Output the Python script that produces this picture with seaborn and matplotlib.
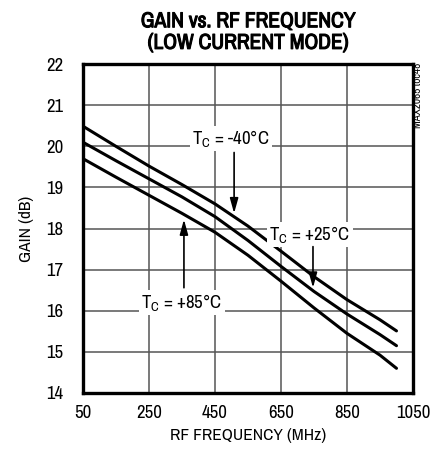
import pandas as pd
import seaborn as sns
from matplotlib import pyplot as plt
from matplotlib import font_manager
from matplotlib import patheffects

freq = [50, 150, 250, 350, 450, 550, 650, 750, 850, 950, 1000]
gain_m40 = [20.49, 20.0, 19.52, 19.07, 18.6, 18.06, 17.45, 16.83, 16.27, 15.78, 15.51]
gain_p25 = [20.1, 19.65, 19.21, 18.77, 18.29, 17.71, 17.08, 16.47, 15.92, 15.42, 15.15]
gain_p85 = [19.7, 19.25, 18.81, 18.37, 17.91, 17.35, 16.72, 16.07, 15.45, 14.92, 14.6]
temps = ["-40", "+25", "+85"]

x_ticks = [50, 250, 450, 650, 850, 1050]
y_ticks = [14, 15, 16, 17, 18, 19, 20, 21, 22]

df = pd.DataFrame({
    "freq": freq * 3,
    "gain": gain_m40 + gain_p25 + gain_p85,
    "temp": [t for t in temps for _ in freq],
})

fonts = font_manager.fontManager.ttflist
narrow = sorted({f.name for f in fonts if "Narrow" in f.name or "Condensed" in f.name})
fam = narrow[0] if narrow else "Liberation Sans"
bold_ok = any(f.name == fam and f.weight in (600, 700, 800, 900, "bold") for f in fonts)

sns.set_style("white")
plt.rcParams["font.family"] = [fam, "DejaVu Sans"]
plt.rcParams["mathtext.default"] = "regular"
plt.rcParams["text.color"] = "black"
plt.rcParams["axes.labelcolor"] = "black"
plt.rcParams["xtick.color"] = "black"
plt.rcParams["ytick.color"] = "black"

fig = plt.figure(figsize=(4.32, 4.58), dpi=100)
ax = fig.add_axes([0.192, 0.142, 0.764, 0.718])

sns.lineplot(data=df, x="freq", y="gain", hue="temp", palette=["black"] * 3,
             linewidth=2.2, legend=False, ax=ax)

ax.set_xlim(50, 1050)
ax.set_ylim(14, 22)
ax.set_xticks(x_ticks)
ax.set_yticks(y_ticks)
ax.tick_params(axis="both", length=0, labelsize=13.5)
ax.tick_params(axis="y", pad=14)
ax.tick_params(axis="x", pad=9)
ax.grid(True, color="#555555", linewidth=1.1)
for s in ax.spines.values():
    s.set_color("black")
    s.set_linewidth(2.4)

ax.set_xlabel("RF FREQUENCY (MHz)", fontsize=12.5, labelpad=5)
ax.set_ylabel("GAIN (dB)", fontsize=12.5, labelpad=9)
title = ax.set_title("GAIN vs. RF FREQUENCY\n(LOW CURRENT MODE)", fontsize=15.5,
                     fontweight="bold", linespacing=1.1, pad=11)
if not bold_ok:
    title.set_path_effects([patheffects.withStroke(linewidth=0.8, foreground="black")])

box = dict(facecolor="white", edgecolor="none", pad=1.5)
arrow = dict(arrowstyle="-|>,head_length=0.9,head_width=0.25", color="black",
             linewidth=1.2, shrinkA=0, shrinkB=0)
ax.text(498, 20.2, r"T$_C$ = -40°C", ha="center", va="center", fontsize=13.5, bbox=box)
ax.annotate("", xy=(508, 18.37), xytext=(508, 19.85), arrowprops=arrow)
ax.text(738, 17.85, r"T$_C$ = +25°C", ha="center", va="center", fontsize=13.5, bbox=box)
ax.annotate("", xy=(747, 16.56), xytext=(747, 17.56), arrowprops=arrow)
ax.text(350, 16.2, r"T$_C$ = +85°C", ha="center", va="center", fontsize=13.5, bbox=box)
ax.annotate("", xy=(356, 18.22), xytext=(356, 16.56), arrowprops=arrow)

fig.text(0.968, 0.862, "MAX2065 toc48", rotation=90, ha="center", va="top", fontsize=8)

plt.savefig("out.png", dpi=100)
plt.close()
